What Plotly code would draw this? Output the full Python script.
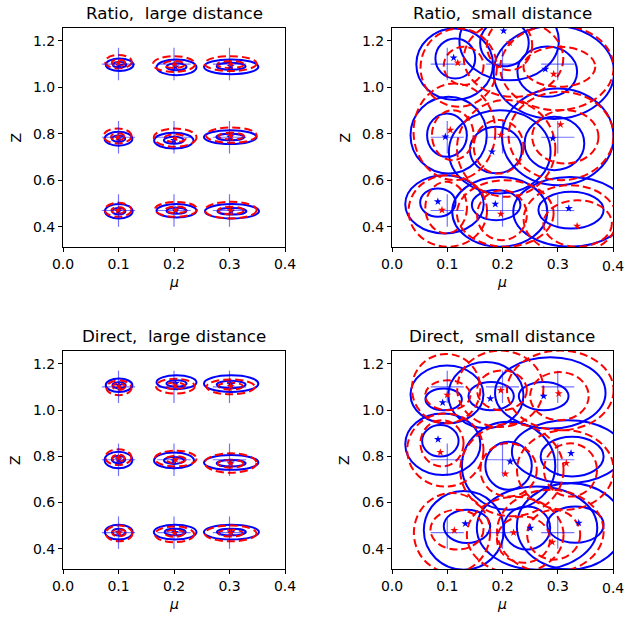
import plotly.graph_objects as go

# ---------------- data ----------------
# true grid points (crosses)
TRUE_MU = [0.1, 0.2, 0.3, 0.1, 0.2, 0.3, 0.1, 0.2, 0.3]
TRUE_Z = [1.1, 1.1, 1.1, 0.785, 0.785, 0.785, 0.47, 0.47, 0.47]
CROSS_HALF_MU = [0.03] * 9
CROSS_HALF_Z = [0.07] * 9

PANEL_TITLES = ["Ratio,\u00a0 large distance", "Ratio,\u00a0 small distance",
                "Direct,\u00a0 large distance", "Direct,\u00a0 small distance"]
X_LABEL = "<i>μ</i>"
Y_LABEL = "Z"
X_TICKS = [0.0, 0.1, 0.2, 0.3, 0.4]
Y_TICKS = [0.4, 0.6, 0.8, 1.0, 1.2]
X_RANGE = [0.0, 0.4]
Y_RANGE = [0.313, 1.255]

# contours: (mu centre, z centre, half width in mu, half height in z)
# --- Ratio, large distance
RL_blue_outer = [(0.102, 1.097, 0.025, 0.027), (0.2045, 1.086, 0.036, 0.034), (0.303, 1.088, 0.049, 0.032),
                 (0.100, 0.7785, 0.025, 0.030), (0.1997, 0.7706, 0.0355, 0.034), (0.3014, 0.7857, 0.0475, 0.030),
                 (0.1005, 0.4667, 0.025, 0.031), (0.2045, 0.469, 0.036, 0.029), (0.3044, 0.4667, 0.0487, 0.031)]
RL_blue_inner = [(0.102, 1.097, 0.012, 0.012), (0.2045, 1.088, 0.018, 0.015), (0.303, 1.090, 0.026, 0.015),
                 (0.100, 0.779, 0.012, 0.014), (0.1997, 0.772, 0.018, 0.015), (0.3014, 0.786, 0.025, 0.014),
                 (0.1005, 0.467, 0.012, 0.014), (0.2045, 0.469, 0.018, 0.013), (0.3044, 0.467, 0.026, 0.014)]
RL_red_outer = [(0.100, 1.110, 0.024, 0.029), (0.200, 1.100, 0.038, 0.034), (0.302, 1.102, 0.047, 0.032),
                (0.0985, 0.7906, 0.025, 0.032), (0.2021, 0.7835, 0.0385, 0.039), (0.3032, 0.794, 0.0457, 0.033),
                (0.0993, 0.473, 0.024, 0.030), (0.2036, 0.475, 0.038, 0.032), (0.3023, 0.4717, 0.0466, 0.036)]
RL_red_inner = [(0.100, 1.106, 0.012, 0.013), (0.200, 1.098, 0.019, 0.015), (0.302, 1.098, 0.024, 0.015),
                (0.0985, 0.787, 0.012, 0.015), (0.2021, 0.781, 0.019, 0.017), (0.3032, 0.790, 0.023, 0.015),
                (0.0993, 0.471, 0.012, 0.014), (0.2036, 0.473, 0.019, 0.014), (0.3023, 0.470, 0.023, 0.016)]
RL_blue_star = [(0.101, 1.095), (0.203, 1.088), (0.302, 1.090), (0.100, 0.780), (0.200, 0.772), (0.301, 0.786),
                (0.100, 0.467), (0.203, 0.469), (0.303, 0.467)]
RL_red_star = [(0.100, 1.104), (0.201, 1.097), (0.302, 1.098), (0.099, 0.786), (0.202, 0.781), (0.302, 0.790),
               (0.099, 0.471), (0.203, 0.473), (0.302, 0.470)]

# --- Ratio, small distance
RS_blue_outer = [(0.1134, 1.099, 0.0694, 0.154), (0.212, 1.20, 0.090, 0.170), (0.293, 1.064, 0.109, 0.200),
                 (0.1025, 0.794, 0.069, 0.165), (0.195, 0.7226, 0.092, 0.179), (0.300, 0.787, 0.101, 0.208),
                 (0.095, 0.4965, 0.071, 0.125), (0.195, 0.4645, 0.086, 0.150), (0.3225, 0.4645, 0.103, 0.150)]
RS_blue_inner = [(0.1146, 1.124, 0.036, 0.086), (0.2035, 1.19, 0.044, 0.100), (0.281, 1.067, 0.054, 0.108),
                 (0.0995, 0.794, 0.036, 0.093), (0.188, 0.730, 0.047, 0.100), (0.294, 0.7585, 0.054, 0.115),
                 (0.083, 0.504, 0.032, 0.061), (0.1885, 0.4935, 0.044, 0.065), (0.324, 0.472, 0.059, 0.079)]
RS_red_outer = [(0.1207, 1.0846, 0.069, 0.168), (0.220, 1.124, 0.090, 0.165), (0.2986, 1.0846, 0.1026, 0.183),
                (0.113, 0.8086, 0.074, 0.208), (0.2066, 0.737, 0.089, 0.208), (0.306, 0.7906, 0.095, 0.190),
                (0.101, 0.468, 0.071, 0.154), (0.205, 0.457, 0.0875, 0.143), (0.3227, 0.432, 0.0845, 0.147)]
RS_red_inner = [(0.1297, 1.092, 0.036, 0.082), (0.2127, 1.181, 0.041, 0.108), (0.303, 1.088, 0.065, 0.086),
                (0.110, 0.794, 0.0377, 0.1075), (0.193, 0.744, 0.045, 0.115), (0.3137, 0.787, 0.060, 0.115),
                (0.098, 0.4824, 0.0377, 0.111), (0.199, 0.450, 0.045, 0.1075), (0.336, 0.414, 0.062, 0.100)]
RS_blue_star = [(0.1116, 1.127), (0.202, 1.243), (0.2775, 1.078), (0.0965, 0.787), (0.181, 0.7226),
                (0.291, 0.780), (0.083, 0.508), (0.187, 0.4975), (0.320, 0.479)]
RS_red_star = [(0.119, 1.105), (0.213, 1.191), (0.2926, 1.057), (0.1056, 0.816), (0.197, 0.795),
               (0.305, 0.840), (0.0905, 0.472), (0.197, 0.455), (0.335, 0.403)]

# --- Direct, large distance
DL_blue_outer = [(0.101, 1.107, 0.024, 0.029), (0.2045, 1.120, 0.036, 0.030), (0.303, 1.114, 0.049, 0.036),
                 (0.100, 0.784, 0.025, 0.036), (0.200, 0.782, 0.036, 0.034), (0.303, 0.7735, 0.049, 0.032),
                 (0.1005, 0.4724, 0.025, 0.032), (0.2021, 0.4724, 0.0385, 0.032), (0.3034, 0.4724, 0.0496, 0.032)]
DL_blue_inner = [(0.101, 1.107, 0.012, 0.013), (0.2045, 1.115, 0.018, 0.014), (0.303, 1.110, 0.026, 0.016),
                 (0.100, 0.786, 0.012, 0.016), (0.200, 0.782, 0.018, 0.015), (0.303, 0.770, 0.026, 0.014),
                 (0.1005, 0.4724, 0.012, 0.015), (0.2021, 0.4724, 0.019, 0.014), (0.3034, 0.4724, 0.026, 0.014)]
DL_red_outer = [(0.1008, 1.096, 0.0226, 0.032), (0.2024, 1.103, 0.035, 0.032), (0.302, 1.100, 0.0436, 0.032),
                (0.0997, 0.796, 0.0235, 0.034), (0.2029, 0.790, 0.0376, 0.034), (0.302, 0.771, 0.0466, 0.042),
                (0.101, 0.4667, 0.024, 0.034), (0.2009, 0.463, 0.0355, 0.034), (0.302, 0.4667, 0.0466, 0.034)]
DL_red_inner = [(0.1008, 1.100, 0.011, 0.014), (0.2024, 1.105, 0.017, 0.014), (0.302, 1.103, 0.022, 0.015),
                (0.0997, 0.792, 0.011, 0.015), (0.2029, 0.786, 0.018, 0.015), (0.302, 0.768, 0.023, 0.017),
                (0.101, 0.469, 0.012, 0.015), (0.2009, 0.467, 0.017, 0.015), (0.302, 0.468, 0.022, 0.015)]
DL_blue_star = [(0.101, 1.107), (0.203, 1.115), (0.302, 1.110), (0.100, 0.786), (0.200, 0.782), (0.302, 0.772),
                (0.100, 0.473), (0.202, 0.472), (0.303, 0.472)]
DL_red_star = [(0.101, 1.100), (0.202, 1.105), (0.302, 1.102), (0.100, 0.792), (0.203, 0.786), (0.302, 0.768),
               (0.101, 0.469), (0.201, 0.467), (0.302, 0.468)]

# --- Direct, small distance
DS_blue_outer = [(0.0995, 1.0674, 0.066, 0.125), (0.170, 1.064, 0.068, 0.143), (0.2865, 1.074, 0.100, 0.154),
                 (0.092, 0.8523, 0.068, 0.133), (0.211, 0.759, 0.0845, 0.190), (0.318, 0.820, 0.101, 0.136),
                 (0.130, 0.480, 0.0724, 0.170), (0.2625, 0.490, 0.109, 0.180), (0.3225, 0.4975, 0.0965, 0.186)]
DS_blue_inner = [(0.0935, 1.046, 0.033, 0.047), (0.1795, 1.060, 0.041, 0.061), (0.2745, 1.060, 0.045, 0.061),
                 (0.0875, 0.867, 0.033, 0.068), (0.211, 0.759, 0.042, 0.104), (0.326, 0.7986, 0.057, 0.086),
                 (0.1357, 0.4975, 0.042, 0.072), (0.2443, 0.490, 0.042, 0.093), (0.332, 0.5045, 0.051, 0.0785)]
DS_red_outer = [(0.098, 1.0925, 0.062, 0.150), (0.196, 1.092, 0.078, 0.165), (0.3047, 1.085, 0.0965, 0.172),
                (0.0965, 0.827, 0.069, 0.158), (0.217, 0.741, 0.0935, 0.200), (0.3137, 0.741, 0.0875, 0.172),
                (0.1086, 0.469, 0.069, 0.172), (0.223, 0.460, 0.0875, 0.165), (0.2866, 0.476, 0.0965, 0.179)]
DS_red_inner = [(0.101, 1.064, 0.041, 0.0645), (0.199, 1.085, 0.045, 0.086), (0.303, 1.060, 0.053, 0.104),
                (0.0905, 0.856, 0.039, 0.100), (0.211, 0.741, 0.051, 0.115), (0.323, 0.741, 0.048, 0.115),
                (0.1176, 0.483, 0.048, 0.086), (0.238, 0.440, 0.048, 0.100), (0.2926, 0.461, 0.048, 0.1075)]
DS_blue_star = [(0.0917, 1.032), (0.178, 1.049), (0.2745, 1.060), (0.0833, 0.873), (0.214, 0.777),
                (0.324, 0.813), (0.1327, 0.509), (0.2504, 0.490), (0.338, 0.512)]
DS_red_star = [(0.100, 1.065), (0.197, 1.085), (0.3017, 1.071), (0.0875, 0.817), (0.205, 0.724),
               (0.3155, 0.770), (0.1128, 0.480), (0.220, 0.470), (0.290, 0.429)]

PANELS = [
    (RL_blue_outer, RL_blue_inner, RL_red_outer, RL_red_inner, RL_blue_star, RL_red_star),
    (RS_blue_outer, RS_blue_inner, RS_red_outer, RS_red_inner, RS_blue_star, RS_red_star),
    (DL_blue_outer, DL_blue_inner, DL_red_outer, DL_red_inner, DL_blue_star, DL_red_star),
    (DS_blue_outer, DS_blue_inner, DS_red_outer, DS_red_inner, DS_blue_star, DS_red_star),
]

# ---------------- layout geometry ----------------
W, H = 624, 620
X_DOMAINS = [(63 / W, 285 / W), (392 / W, 613 / W), (63 / W, 285 / W), (392 / W, 613 / W)]
Y_DOMAINS = [(1 - 247 / H, 1 - 28 / H), (1 - 247 / H, 1 - 28 / H),
             (1 - 569 / H, 1 - 351 / H), (1 - 569 / H, 1 - 351 / H)]
YLABEL_X = [15 / W, 344 / W, 15 / W, 344 / W]

BLUE = "#0000ff"
RED = "#ff0000"
FONT = "DejaVu Sans"

fig = go.Figure()
shapes = []
annotations = []

for i, (b_out, b_in, r_out, r_in, b_star, r_star) in enumerate(PANELS):
    n = i + 1
    xr = "x" if n == 1 else f"x{n}"
    yr = "y" if n == 1 else f"y{n}"

    # crosses at true values
    fig.add_trace(go.Scatter(
        x=TRUE_MU, y=TRUE_Z, mode="markers", xaxis=xr, yaxis=yr,
        marker=dict(size=1, color="rgba(0,0,0,0)"),
        error_x=dict(type="data", array=CROSS_HALF_MU, symmetric=True,
                     color="rgba(0,0,255,0.55)", thickness=1.2, width=0),
        error_y=dict(type="data", array=CROSS_HALF_Z, symmetric=True,
                     color="rgba(0,0,255,0.55)", thickness=1.2, width=0),
        showlegend=False, hoverinfo="skip"))

    for group, color, dash in ((b_out, BLUE, "solid"), (b_in, BLUE, "solid"),
                               (r_out, RED, "8px,4px"), (r_in, RED, "8px,4px")):
        for (cx, cz, a, b) in group:
            shapes.append(dict(type="circle", xref=xr, yref=yr,
                               x0=cx - a, x1=cx + a, y0=cz - b, y1=cz + b,
                               line=dict(color=color, width=2, dash=dash),
                               layer="between"))

    fig.add_trace(go.Scatter(
        x=[p[0] for p in b_star], y=[p[1] for p in b_star], mode="markers",
        xaxis=xr, yaxis=yr, marker=dict(symbol="star", size=6, color=BLUE),
        showlegend=False, cliponaxis=True))
    fig.add_trace(go.Scatter(
        x=[p[0] for p in r_star], y=[p[1] for p in r_star], mode="markers",
        xaxis=xr, yaxis=yr, marker=dict(symbol="star", size=6, color=RED),
        showlegend=False, cliponaxis=True))

    ax_common = dict(showline=True, linecolor="black", linewidth=1, mirror=True,
                     ticks="outside", ticklen=4, tickwidth=1, tickcolor="black",
                     showgrid=False, zeroline=False, automargin=False,
                     tickfont=dict(family=FONT, size=14, color="black"))
    xkey = "xaxis" if n == 1 else f"xaxis{n}"
    ykey = "yaxis" if n == 1 else f"yaxis{n}"
    fig.layout[xkey] = dict(ax_common, domain=list(X_DOMAINS[i]), anchor=yr, range=X_RANGE,
                            tickvals=X_TICKS, tickformat=".1f")
    fig.layout[ykey] = dict(ax_common, domain=list(Y_DOMAINS[i]), anchor=xr, range=Y_RANGE,
                            tickvals=Y_TICKS, tickformat=".1f")
    # panel title
    annotations.append(dict(text=PANEL_TITLES[i], xref="paper", yref="paper",
                            x=sum(X_DOMAINS[i]) / 2, y=Y_DOMAINS[i][1],
                            xanchor="center", yanchor="bottom", yshift=3, showarrow=False,
                            font=dict(family=FONT, size=16.7, color="black")))
    # x label
    annotations.append(dict(text=X_LABEL, xref="paper", yref="paper",
                            x=sum(X_DOMAINS[i]) / 2, y=Y_DOMAINS[i][0],
                            xanchor="center", yanchor="middle", yshift=-35, showarrow=False,
                            font=dict(family=FONT, size=14, color="black")))
    # y label
    annotations.append(dict(text=Y_LABEL, xref="paper", yref="paper",
                            x=YLABEL_X[i], y=sum(Y_DOMAINS[i]) / 2, textangle=-90,
                            xanchor="center", yanchor="middle", showarrow=False,
                            font=dict(family=FONT, size=14, color="black")))
    # last x tick label on the right-hand panels runs past the figure edge (cut off in the reference)
    if X_DOMAINS[i][1] > 0.9:
        annotations.append(dict(text=f"{X_TICKS[-1]:.1f}", xref=xr, yref="paper",
                                x=X_TICKS[-1], y=Y_DOMAINS[i][0],
                                xanchor="center", yanchor="middle", yshift=-19, showarrow=False,
                                font=dict(family=FONT, size=14, color="black")))

fig.update_layout(width=W, height=H, margin=dict(l=0, r=0, t=0, b=0, autoexpand=False),
                  paper_bgcolor="white", plot_bgcolor="white",
                  shapes=shapes, annotations=annotations, showlegend=False)

fig.write_html("out.html")
